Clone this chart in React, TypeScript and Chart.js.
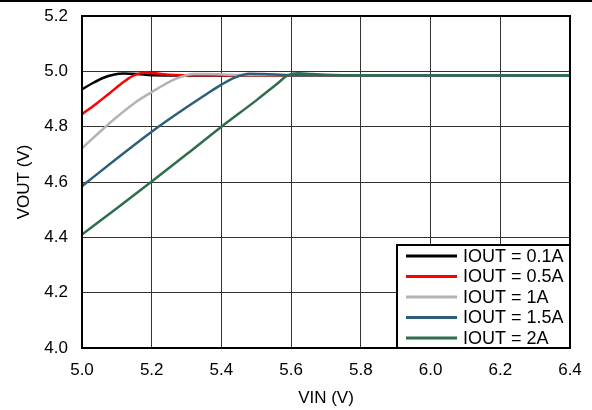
import React, { useEffect, useRef } from "react";
import { Chart, registerables } from "chart.js";

Chart.register(...registerables);

const seriesLabels = ["IOUT = 0.1A", "IOUT = 0.5A", "IOUT = 1A", "IOUT = 1.5A", "IOUT = 2A"];
const seriesColors = ["#000000", "#ff0000", "#b4b4b4", "#2d5f78", "#2f6e4c"];

const vin01 = [5.0, 5.03, 5.06, 5.09, 5.12, 5.16, 5.2, 5.3, 5.6, 6.4];
const vout01 = [4.935, 4.957, 4.976, 4.988, 4.992, 4.99, 4.986, 4.985, 4.985, 4.985];

const vin05 = [5.0, 5.04, 5.08, 5.12, 5.15, 5.18, 5.21, 5.25, 5.35, 6.4];
const vout05 = [4.845, 4.882, 4.922, 4.962, 4.986, 4.995, 4.993, 4.988, 4.986, 4.985];

const vin1 = [5.0, 5.05, 5.1, 5.15, 5.2, 5.24, 5.28, 5.32, 5.36, 5.45, 6.4];
const vout1 = [4.722, 4.78, 4.835, 4.885, 4.925, 4.955, 4.978, 4.99, 4.99, 4.987, 4.985];

const vin15 = [5.0, 5.1, 5.2, 5.3, 5.36, 5.4, 5.44, 5.48, 5.52, 5.6, 6.4];
const vout15 = [4.585, 4.685, 4.782, 4.87, 4.92, 4.952, 4.978, 4.991, 4.99, 4.986, 4.985];

const vin2 = [5.0, 5.1, 5.2, 5.3, 5.4, 5.5, 5.56, 5.59, 5.62, 5.66, 5.75, 6.4];
const vout2 = [4.41, 4.505, 4.602, 4.7, 4.8, 4.895, 4.955, 4.985, 4.993, 4.99, 4.986, 4.985];

const vinSeries = [vin01, vin05, vin1, vin15, vin2];
const voutSeries = [vout01, vout05, vout1, vout15, vout2];

const xTicks = [5.0, 5.2, 5.4, 5.6, 5.8, 6.0, 6.2, 6.4];
const yTicks = [4.0, 4.2, 4.4, 4.6, 4.8, 5.0, 5.2];

const FONT = "'Liberation Sans', Arial, sans-serif";

const framePlugin = {
  id: "framePlugin",
  beforeDraw(chart: any) {
    const ctx = chart.ctx;
    ctx.save();
    ctx.fillStyle = "#ffffff";
    ctx.fillRect(0, 0, chart.width, chart.height);
    ctx.fillStyle = "#000000";
    ctx.fillRect(0, 0, chart.width, 2);
    ctx.restore();
  },
  afterDatasetsDraw(chart: any) {
    const ctx = chart.ctx;
    const a = chart.chartArea;
    ctx.save();
    ctx.strokeStyle = "#000";
    ctx.lineWidth = 2;
    ctx.strokeRect(a.left, a.top, a.right - a.left, a.bottom - a.top);

    // legend box inside plot area (bottom-right)
    const w = 173;
    const h = 103;
    const x0 = a.right - w;
    const y0 = a.bottom - h;
    ctx.fillStyle = "#fff";
    ctx.fillRect(x0, y0, w, h);
    ctx.strokeRect(x0, y0, w, h);
    ctx.font = `18px ${FONT}`;
    ctx.textBaseline = "middle";
    ctx.textAlign = "left";
    const rowH = 20.5;
    chart.data.datasets.forEach((ds: any, i: number) => {
      const cy = y0 + 11 + i * rowH;
      ctx.strokeStyle = ds.borderColor;
      ctx.lineWidth = 3;
      ctx.beginPath();
      ctx.moveTo(x0 + 9, cy);
      ctx.lineTo(x0 + 60, cy);
      ctx.stroke();
      ctx.fillStyle = "#000";
      ctx.fillText(ds.label, x0 + 66, cy + 1);
    });
    ctx.restore();
  },
};

export default function App() {
  const ref = useRef<HTMLCanvasElement | null>(null);

  useEffect(() => {
    document.body.style.margin = "0";
    const canvas = ref.current;
    if (!canvas) return;
    const datasets = seriesLabels.map((label, i) => ({
      label,
      data: vinSeries[i].map((x, j) => ({ x, y: voutSeries[i][j] })),
      borderColor: seriesColors[i],
      backgroundColor: seriesColors[i],
      borderWidth: 2.5,
      pointRadius: 0,
      cubicInterpolationMode: "monotone" as const,
      order: seriesLabels.length - i,
    }));
    const chart = new Chart(canvas, {
      type: "line",
      data: { datasets },
      plugins: [framePlugin],
      options: {
        animation: false,
        responsive: false,
        maintainAspectRatio: false,
        layout: { padding: { top: 16, right: 22, left: 0, bottom: 0 } },
        plugins: { legend: { display: false }, tooltip: { enabled: false } },
        scales: {
          x: {
            type: "linear",
            min: 5.0,
            max: 6.4,
            afterBuildTicks: (s: any) => {
              s.ticks = xTicks.map((v) => ({ value: v }));
            },
            afterFit: (s: any) => {
              s.height = 62;
              s.paddingLeft = 0;
              s.paddingRight = 0;
            },
            ticks: {
              callback: (v: any) => Number(v).toFixed(1),
              color: "#000",
              font: { family: FONT, size: 17 },
              padding: 12,
              maxRotation: 0,
            },
            grid: { color: "#333333", lineWidth: 1, drawTicks: false },
            border: { display: false },
            title: {
              display: true,
              text: "VIN (V)",
              color: "#000",
              font: { family: FONT, size: 17 },
              padding: { top: 0, bottom: 1 },
            },
          },
          y: {
            type: "linear",
            min: 4.0,
            max: 5.2,
            afterBuildTicks: (s: any) => {
              s.ticks = yTicks.map((v) => ({ value: v }));
            },
            afterFit: (s: any) => {
              s.width = 82;
              s.paddingTop = 0;
              s.paddingBottom = 0;
            },
            ticks: {
              callback: (v: any) => Number(v).toFixed(1),
              color: "#000",
              font: { family: FONT, size: 17 },
              padding: 14,
            },
            grid: { color: "#333333", lineWidth: 1, drawTicks: false },
            border: { display: false },
            title: {
              display: true,
              text: "VOUT (V)",
              color: "#000",
              font: { family: FONT, size: 17 },
              padding: { top: 14, bottom: 0 },
            },
          },
        },
      },
    });
    return () => chart.destroy();
  }, []);

  return (
    <div style={{ width: 592, height: 410 }}>
      <canvas ref={ref} width={592} height={410} style={{ display: "block" }} />
    </div>
  );
}
